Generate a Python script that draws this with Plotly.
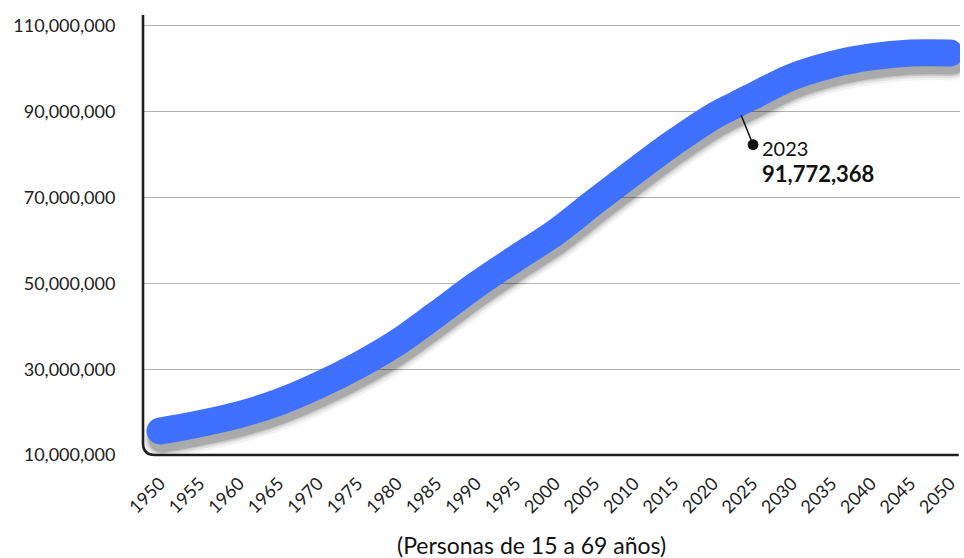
import plotly.graph_objects as go

# Población de 15 a 69 años (personas), estimaciones y proyecciones
anios = [1950, 1955, 1960, 1965, 1970, 1975, 1980, 1985, 1990, 1995, 2000,
         2005, 2010, 2015, 2020, 2023, 2025, 2030, 2035, 2040, 2045, 2050]
poblacion = [15_600_000, 17_300_000, 19_400_000, 22_300_000, 26_200_000,
             30_800_000, 36_200_000, 42_800_000, 49_600_000, 55_800_000,
             61_800_000, 69_000_000, 76_000_000, 82_800_000, 88_900_000,
             91_772_368, 93_600_000, 98_100_000, 101_000_000, 102_800_000,
             103_700_000, 103_700_000]

anio_destacado = 2023
valor_destacado = poblacion[anios.index(anio_destacado)]

x_ticks = list(range(1950, 2051, 5))
x_ticktext = [str(a) for a in x_ticks]
y_ticks = [10_000_000, 30_000_000, 50_000_000, 70_000_000, 90_000_000, 110_000_000]
y_ticktext = [f"{v:,}" for v in y_ticks]

AZUL = "#4070ff"
TEXTO = "#222222"
FUENTE = "Lato, 'Open Sans', sans-serif"

# Geometría del área de trazado
ANCHO, ALTO = 964, 558
M_IZQ, M_DER, M_SUP, M_INF = 143, 4, 15, 103
X_RANGO = [1947.85, 2051.27]
Y_RANGO = [10_000_000, 112_560_000]
ancho_plot = ANCHO - M_IZQ - M_DER
alto_plot = ALTO - M_SUP - M_INF

# Desplazamiento de la sombra (px) expresado en unidades de cada eje
SOMBRA_DX, SOMBRA_DY = 2, 8
dx_u = SOMBRA_DX * (X_RANGO[1] - X_RANGO[0]) / ancho_plot
dy_u = SOMBRA_DY * (Y_RANGO[1] - Y_RANGO[0]) / alto_plot

fig = go.Figure()

# Sombra difusa (ejes base ocultos, desplazados): varias pasadas grises
for extra, alfa in [(12, 0.05), (7, 0.08), (3, 0.11), (0, 0.14)]:
    fig.add_trace(go.Scatter(
        x=anios, y=poblacion, mode="lines", xaxis="x", yaxis="y",
        line=dict(color=f"rgba(0,0,0,{alfa})", width=27 + extra,
                  shape="spline", smoothing=1.0),
        hoverinfo="skip",
    ))

# Serie principal sobre los ejes visibles
fig.add_trace(go.Scatter(
    x=anios, y=poblacion, mode="lines", xaxis="x2", yaxis="y2",
    line=dict(color=AZUL, width=27, shape="spline", smoothing=1.0),
    hoverinfo="skip",
))

# Etiqueta del año destacado: línea guía con punto y texto
fig.add_annotation(
    x=anio_destacado, y=valor_destacado, xref="x2", yref="y2",
    text="", showarrow=True, arrowside="start", startarrowhead=6,
    startarrowsize=1.8, arrowwidth=1.5, arrowcolor="#111111",
    ax=17, ay=42, standoff=12,
)
fig.add_annotation(
    x=anio_destacado, y=valor_destacado, xref="x2", yref="y2",
    text=(f"<span style='font-size:20px'>{anio_destacado}</span><br>"
          f"<b style='font-size:22px'>{valor_destacado:,}</b>"),
    showarrow=False, xanchor="left", yanchor="top", align="left",
    xshift=23, yshift=-30,
    font=dict(family=FUENTE, size=20, color="#111111"),
)
fig.add_annotation(
    text="(Personas de 15 a 69 años)", xref="paper", yref="paper",
    x=0.475, y=-0.205, xanchor="center", yanchor="middle", showarrow=False,
    font=dict(family=FUENTE, size=23, color="#111111"),
)

# Marco de ejes con esquina redondeada
rx, ry = 12 / ancho_plot, 12 / alto_plot
fig.add_shape(
    type="path", xref="paper", yref="paper",
    path=f"M 0,1 L 0,{ry} Q 0,0 {rx},0 L 0.9985,0",
    line=dict(color="#1e1e1e", width=2.6), layer="above",
)

fig.update_layout(
    width=ANCHO, height=ALTO,
    margin=dict(l=M_IZQ, r=M_DER, t=M_SUP, b=M_INF),
    paper_bgcolor="white", plot_bgcolor="white",
    showlegend=False,
    font=dict(family=FUENTE, color=TEXTO),
    xaxis=dict(range=[X_RANGO[0] - dx_u, X_RANGO[1] - dx_u],
               visible=False, showgrid=False, zeroline=False),
    yaxis=dict(range=[Y_RANGO[0] + dy_u, Y_RANGO[1] + dy_u],
               visible=False, showgrid=False, zeroline=False),
    xaxis2=dict(
        overlaying="x", side="bottom",
        range=X_RANGO, tickvals=x_ticks, ticktext=x_ticktext,
        tickangle=-45, showgrid=False, zeroline=False, showline=False,
        ticks="outside", ticklen=10, tickcolor="rgba(0,0,0,0)",
        tickfont=dict(family=FUENTE, size=18, color=TEXTO),
    ),
    yaxis2=dict(
        overlaying="y", side="left",
        range=Y_RANGO, tickvals=y_ticks, ticktext=y_ticktext,
        showgrid=True, gridcolor="#b5b0ab", gridwidth=1,
        zeroline=False, showline=False,
        ticks="outside", ticklen=23, tickcolor="rgba(0,0,0,0)",
        tickfont=dict(family=FUENTE, size=18, color=TEXTO),
    ),
)

# Extremos redondeados de las líneas
post = """
var gd = document.getElementById('{plot_id}');
function extremos(){
  gd.querySelectorAll('.scatterlayer .trace path.js-line').forEach(function(p){
    p.style.strokeLinecap = 'round';
  });
}
extremos();
gd.on('plotly_afterplot', extremos);
"""

fig.write_html("out.html", post_script=post, config={"displayModeBar": False})
